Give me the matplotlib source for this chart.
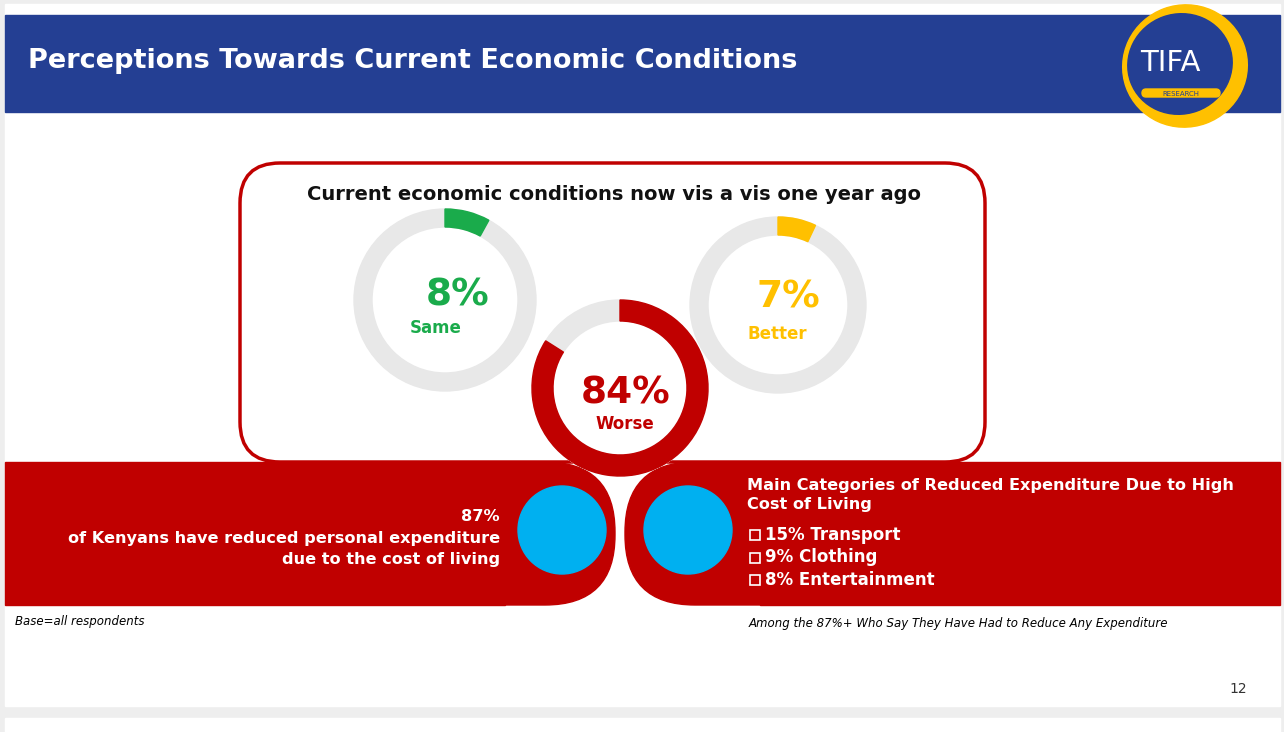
import matplotlib
matplotlib.use("Agg")
import matplotlib.pyplot as plt
from matplotlib.patches import Rectangle, FancyBboxPatch, Circle, Wedge, Ellipse

labels = ["Same", "Better", "Worse"]
values = [8, 7, 84]
colors = ["#1aab4b", "#ffc000", "#c00000"]
categories = ["15% Transport", "9% Clothing", "8% Entertainment"]

fig = plt.figure(figsize=(12.84, 7.32), dpi=100)
ax = fig.add_axes([0, 0, 1, 1])
ax.set_xlim(0, 1284); ax.set_ylim(732, 0); ax.axis("off")
fig.patch.set_facecolor("#eeeeee")
ax.add_patch(Rectangle((5, 4), 1275, 702, color="white"))
ax.add_patch(Rectangle((5, 718), 1275, 20, color="white"))
ax.add_patch(Rectangle((5, 15), 1275, 97, color="#243f93"))
ax.text(28, 61, "Perceptions Towards Current Economic Conditions", color="white",
        fontsize=19.5, fontweight="bold", va="center")
# logo
ax.add_patch(Ellipse((1185, 66), 125, 122, angle=-20, color="#ffc000"))
ax.add_patch(Ellipse((1180, 64), 105, 100, angle=-20, color="#243f93"))
ax.text(1170, 63, "TIFA", color="white", fontsize=21, ha="center", va="center")
ax.add_patch(FancyBboxPatch((1142, 89), 78, 8, boxstyle="round,pad=0,rounding_size=4", color="#ffc000"))
ax.text(1181, 93.5, "RESEARCH", color="#243f93", fontsize=5, ha="center", va="center")

ax.add_patch(FancyBboxPatch((240, 163), 745, 299, boxstyle="round,pad=0,rounding_size=40",
                            fill=False, ec="#c00000", lw=2.5))
ax.text(614, 194, "Current economic conditions now vis a vis one year ago", fontsize=14,
        fontweight="bold", ha="center", va="center", color="#111111")

# bottom band
ax.add_patch(Rectangle((5, 462), 500, 143, color="#c00000"))
ax.add_patch(FancyBboxPatch((380, 462), 235, 143, boxstyle="round,pad=0,rounding_size=70",
                            color="#c00000"))
ax.add_patch(Rectangle((760, 462), 520, 143, color="#c00000"))
ax.add_patch(FancyBboxPatch((625, 462), 300, 143, boxstyle="round,pad=0,rounding_size=70",
                            color="#c00000"))

centers = [(445, 300, 91, 18), (778, 305, 88, 18), (620, 388, 88, 21)]
for (cx, cy, r, w), v, c, lab in zip(centers, values, colors, labels):
    ax.add_patch(Circle((cx, cy), r, color="white"))
    ax.add_patch(Wedge((cx, cy), r, 0, 360, width=w, color="#e8e8e8"))
    ax.add_patch(Wedge((cx, cy), r, -90, -90 + 3.6 * v, width=w, color=c))
ax.text(458, 296, "8%", color=colors[0], fontsize=27, fontweight="bold", ha="center", va="center")
ax.text(436, 328, "Same", color=colors[0], fontsize=12, fontweight="bold", ha="center", va="center")
ax.text(788, 297, "7%", color=colors[1], fontsize=27, fontweight="bold", ha="center", va="center")
ax.text(777, 334, "Better", color=colors[1], fontsize=12, fontweight="bold", ha="center", va="center")
ax.text(626, 393, "84%", color=colors[2], fontsize=27, fontweight="bold", ha="center", va="center")
ax.text(625, 424, "Worse", color=colors[2], fontsize=12, fontweight="bold", ha="center", va="center")

ax.add_patch(Circle((562, 530), 44, color="#00b0f0"))
ax.add_patch(Circle((688, 530), 44, color="#00b0f0"))

ax.text(500, 538, "87%\nof Kenyans have reduced personal expenditure\ndue to the cost of living",
        color="white", fontsize=11.6, fontweight="bold", ha="right", va="center", linespacing=1.55)
ax.text(747, 495, "Main Categories of Reduced Expenditure Due to High\nCost of Living",
        color="white", fontsize=11.6, fontweight="bold", va="center", linespacing=1.35)
for i, cat in enumerate(categories):
    y = 535 + i * 22.5
    ax.add_patch(Rectangle((750, y - 5), 10, 10, fill=False, ec="white", lw=1.2))
    ax.text(765, y, cat, color="white", fontsize=12, fontweight="bold", va="center")

ax.text(15, 622, "Base=all respondents", fontsize=8.5, style="italic", va="center")
ax.text(749, 623, "Among the 87%+ Who Say They Have Had to Reduce Any Expenditure", fontsize=8.5,
        style="italic", va="center")
ax.text(1238, 689, "12", fontsize=10, ha="center", va="center", color="#333333")
fig.savefig("out.png", dpi=100, facecolor=fig.get_facecolor())
